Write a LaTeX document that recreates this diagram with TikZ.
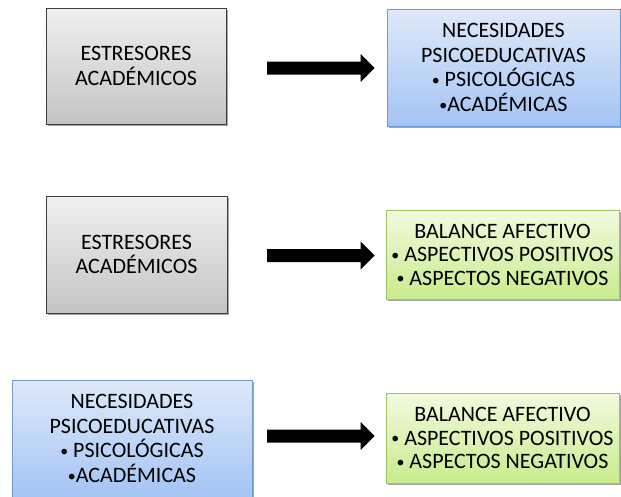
\documentclass[tikz,border=0pt]{standalone}
\usepackage{fontspec}
\usepackage{graphicx}
\setmainfont{Carlito}
\usetikzlibrary{calc,shadows}
\definecolor{grayT}{HTML}{F0F0F0}
\definecolor{grayB}{HTML}{C4C4C4}
\definecolor{grayD}{HTML}{3C3C3C}
\definecolor{blueT}{HTML}{DEE9FA}
\definecolor{blueB}{HTML}{A4C4F4}
\definecolor{blueD}{HTML}{6F9AD6}
\definecolor{greenT}{HTML}{F2FADF}
\definecolor{greenB}{HTML}{C8EC8C}
\definecolor{greenD}{HTML}{9CC45C}
\newcommand\smbul{\raisebox{1.2pt}{\scalebox{0.72}{•}}}
\tikzset{
  box/.style={rectangle, inner sep=0pt, align=center, line width=0.8pt,
    font=\fontsize{22}{24.8}\selectfont,
    drop shadow={shadow xshift=1.5pt, shadow yshift=-1.5pt, opacity=0.35, fill=black}},
  graybox/.style={box, draw=grayD, top color=grayT, bottom color=grayB},
  bluebox/.style={box, draw=blueD, top color=blueT, bottom color=blueB},
  greenbox/.style={box, draw=greenD, top color=greenT, bottom color=greenB,
    font=\fontsize{22}{23.5}\selectfont},
}
\newcommand\blkarrow[2]{%
  \fill[black] let \p1=#1, \p2=#2 in
    (\x1,\y2+6.5pt) -- (\x2-14pt,\y2+6.5pt) -- (\x2-14pt,\y2+14pt) -- (\x2,\y2)
    -- (\x2-14pt,\y2-14pt) -- (\x2-14pt,\y2-6.5pt) -- (\x1,\y2-6.5pt) -- cycle;}
\begin{document}
\begin{tikzpicture}[x=1pt,y=1pt]
\useasboundingbox[fill=white] (0,0) rectangle (621,-496);
\begin{scope}
\clip (0,0) rectangle (621,-496);
% row 1
\node[graybox, minimum width=180pt, minimum height=116pt] (g1) at (136,-66)
  {ESTRESORES\\ACADÉMICOS};
\node[bluebox, minimum width=233pt, minimum height=117pt] (b1) at (503.5,-67.5)
  {NECESIDADES\\PSICOEDUCATIVAS\\\smbul{} PSICOLÓGICAS\\\smbul ACADÉMICAS};
% row 2
\node[graybox, minimum width=181pt, minimum height=117pt] (g2) at (136.5,-254.5)
  {ESTRESORES\\ACADÉMICOS};
\node[greenbox, minimum width=233pt, minimum height=89pt] (gr1) at (502.5,-254.5)
  {BALANCE AFECTIVO\\\smbul{} ASPECTIVOS POSITIVOS\\\smbul{} ASPECTOS NEGATIVOS};
% row 3
\node[bluebox, minimum width=240pt, minimum height=117pt] (b2) at (132,-438.5)
  {NECESIDADES\\PSICOEDUCATIVAS\\\smbul{} PSICOLÓGICAS\\\smbul ACADÉMICAS};
\node[greenbox, minimum width=233pt, minimum height=90pt] (gr2) at (502.5,-438)
  {BALANCE AFECTIVO\\\smbul{} ASPECTIVOS POSITIVOS\\\smbul{} ASPECTOS NEGATIVOS};
% arrows
\coordinate (a1s) at (267,-68);
\coordinate (a1e) at ($(b1.west)+(-12,-0.5)$);
\coordinate (a2s) at (267,-255.5);
\coordinate (a2e) at ($(gr1.west)+(-11,-1)$);
\coordinate (a3s) at (267,-436);
\coordinate (a3e) at ($(gr2.west)+(-11,2)$);
\blkarrow{(a1s)}{(a1e)}
\blkarrow{(a2s)}{(a2e)}
\blkarrow{(a3s)}{(a3e)}
\end{scope}
\end{tikzpicture}
\end{document}
